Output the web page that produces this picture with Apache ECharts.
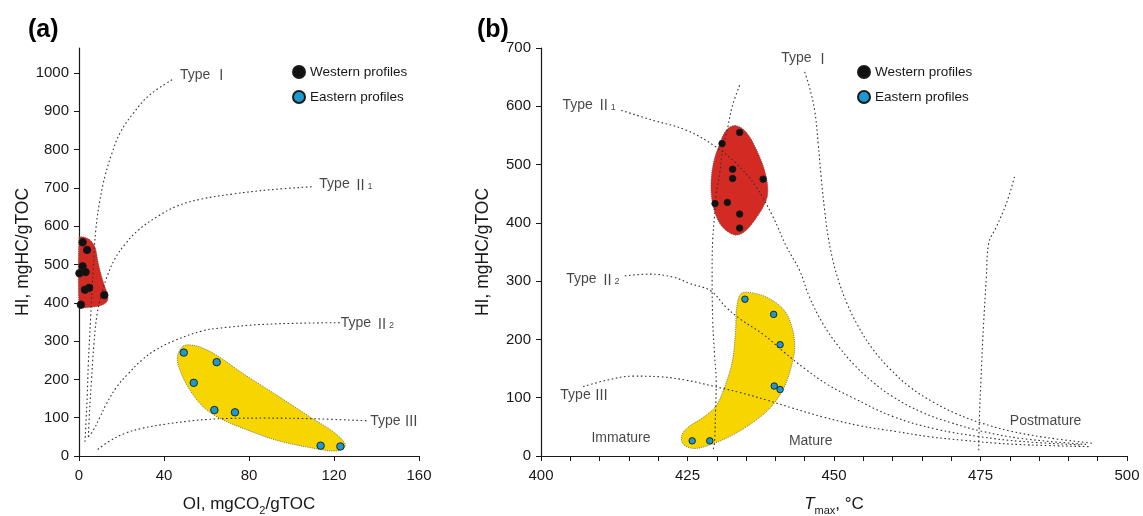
<!DOCTYPE html>
<html><head><meta charset="utf-8">
<script src="https://cdn.jsdelivr.net/npm/echarts@6/dist/echarts.min.js"></script>
<style>html,body{margin:0;padding:0;background:#fff}#c{width:1143px;height:516px}</style>
</head><body><div id="c"></div>
<script>
// ---------- Panel (a): HI vs OI ----------
var westA = [[1.7,558],[3.8,538],[1.7,495],[0.2,477],[3.1,480],[2.8,434],[4.8,439],[11.9,420],[0.9,395]];
var eastA = [[49.3,270],[64.8,245],[54.0,191],[63.7,120],[73.4,114],[113.7,27],[123.0,25]];
var typeI_A = [[2.8,37],[3.4,100],[3.9,160],[4.4,242],[5.5,363],[6.7,490],[7.9,590],[9.6,660],[12.2,730],[15.5,790],[19.3,843],[25.6,895],[33.4,943],[44.4,984]];
var typeII1_A = [[4.4,50],[5.0,120],[5.9,200],[7.0,290],[8.5,370],[10.5,420],[13.0,465],[16.9,515],[22.0,555],[28.0,590],[36.6,624],[46.0,652],[57.0,670],[72.6,684],[90.0,695],[110.3,703]];
var typeII2_A = [[4.4,50],[6.7,67],[9.9,102],[13.0,137],[17.7,180],[23.2,215],[29.5,250],[35.8,276],[45.2,302],[57.7,326],[64.8,333],[88.3,344],[122.8,348]];
var typeIII_A = [[8.8,17],[13.8,37],[21.6,59],[29.5,72],[40.5,83],[51.5,91],[59.3,95],[70.0,98],[88.3,99],[111.9,97],[135.4,92]];
var redA = [[0,571],[1.3,572],[3.3,570],[5.2,564],[7.5,546],[9.1,503],[10.7,468],[12.2,442],[13.3,425],[13.6,410],[12.7,400],[9.9,392],[5.2,388],[1.3,386],[0,386]];
var yellowA = [[49.1,287],[53.8,289],[58.5,281],[64.8,263],[77.3,215],[93.0,159],[108.7,102],[119.7,63],[125.2,32],[124.4,19],[119.7,13],[108.7,22],[93.0,41],[77.3,72],[66.4,98],[58.5,128],[52.2,172],[47.5,224],[46.3,259]];
var labelsA = [[47.5,995,'{t|Type }{r|Ⅰ}'],[113.1,709,'{t|Type }{r|Ⅱ}{s|1}'],[123.2,346,'{t|Type }{r|Ⅱ}{s|2}'],[137.0,91,'{t|Type }{r|Ⅲ}']];
var yTicksA = [0,100,200,300,400,500,600,700,800,900,1000];

// ---------- Panel (b): HI vs Tmax ----------
var westB = [[433.9,555],[430.9,536],[432.7,492],[432.7,476],[437.9,475],[429.7,433],[431.8,435],[433.9,415],[433.9,391]];
var eastB = [[434.8,269],[439.7,243],[440.8,191],[439.8,120],[440.8,114],[425.8,26],[428.8,26]];
var typeI_B = [[445.0,659],[445.8,633],[446.7,593],[447.3,536],[447.8,479],[448.4,422],[449.0,376],[449.8,336],[450.8,300],[452.2,262],[454.0,225],[456.5,185],[459.5,150],[463.0,118],[467.0,92],[471.0,72],[475.0,57],[480.0,43],[486.0,32],[494.0,22]];
var typeII1_B = [[413.7,593],[419.1,576],[424.8,559],[429.9,530],[433.3,502],[436.7,462],[439.6,410],[441.9,359],[444.1,319],[445.8,273],[448.1,227],[450.4,193],[453.2,159],[456.5,128],[460.0,102],[465.0,75],[470.0,57],[475.0,43],[482.0,30],[493.0,20]];
var typeII2_B = [[414.3,309],[418.5,312],[422.5,307],[425.4,296],[429.0,283],[431.5,256],[434.0,235],[438.0,208],[441.5,178],[445.0,150],[449.0,122],[453.0,101],[460.0,68],[467.5,46],[475.0,33],[482.0,25],[492.0,19]];
var typeIII_B = [[407.2,119],[411.2,130],[415.7,137],[420.2,136],[424.8,130],[429.3,120],[433.9,109],[438.5,96],[443.0,82],[448.1,67],[454.4,52],[460.6,42],[466.3,33],[472.0,27],[477.7,22],[483.4,19],[493.6,16]];
var boundImm = [[433.9,636],[432.6,599],[431.9,565],[431.0,525],[430.5,485],[429.9,450],[429.6,410],[429.3,370],[429.2,319],[429.3,233],[429.6,176],[429.9,125],[429.8,79],[429.6,22],[429.4,12]];
var boundPost = [[480.8,479],[479.4,433],[477.7,393],[476.4,365],[476.0,307],[475.5,222],[475.1,136],[474.8,62],[474.7,10]];
var redB = [[433.1,567],[435.0,556],[436.8,525],[438.3,485],[438.7,450],[437.9,427],[436.5,405],[435.0,387],[433.5,379],[432.0,384],[430.5,399],[429.4,427],[429.0,462],[429.4,502],[430.5,536],[431.6,559]];
var yellowB = [[434.2,279],[436.5,279],[439.0,270],[441.5,250],[442.8,222],[443.3,190],[443.0,165],[441.8,125],[439.6,88],[436.5,60],[432.5,35],[428.5,18],[426.0,13],[424.3,20],[424.0,35],[425.2,50],[427.5,65],[429.8,85],[431.2,115],[432.6,160],[433.2,215],[433.4,255]];
var labelsB = [[441.0,682,'{t|Type }{r|Ⅰ}'],[403.65,602,'{t|Type }{r|Ⅱ}{s|1}'],[404.3,303,'{t|Type }{r|Ⅱ}{s|2}'],[403.3,105,'{t|Type }{r|Ⅲ}'],[408.6,30,'{t|Immature}'],[442.3,26,'{t|Mature}'],[480.0,59,'{t|Postmature}']];

var seriesNames = ['Western profiles','Eastern profiles'];
var FONT = 'Liberation Sans, Arial, sans-serif';
var INK = '#1a1718';
var RED = '#d42a24', YELLOW = '#f6d500', BLUE = '#1b9ad2';

function curve(data, i){
  return {type:'line', xAxisIndex:i, yAxisIndex:i, data:data, smooth:0.4, symbol:'none', silent:true, z:3,
    lineStyle:{color:'#333', width:1.1, type:[1.6,2.6]}};
}
function blob(data, i, color){
  return {type:'custom', xAxisIndex:i, yAxisIndex:i, silent:true, z:1, data:data,
    renderItem:function(params, api){
      if(params.dataIndex!==0) return {type:'group', children:[]};
      var pts = data.map(function(p){return api.coord(p);});
      return {type:'polygon', shape:{points:pts, smooth:0.35},
        style:{fill:color, stroke:'#555', lineWidth:0.8, lineDash:[1,1.2]}};
    }};
}
function pts(data, i, name, color, size){
  return {type:'scatter', name:name, xAxisIndex:i, yAxisIndex:i, data:data, symbol:'circle', symbolSize:size, z:5,
    itemStyle:{color:color, borderColor:'#1a1a1a', borderWidth:0.9, opacity:1}};
}
var labelRich = {
  t:{fontSize:14, fontFamily:FONT, color:INK},
  r:{fontSize:14, fontFamily:'Noto Sans CJK SC', color:INK},
  s:{fontSize:9, fontFamily:FONT, color:INK, verticalAlign:'bottom', lineHeight:9}
};
function labels(arr, i){
  return {type:'scatter', xAxisIndex:i, yAxisIndex:i, symbolSize:0, silent:true, z:6,
    data:arr.map(function(l){return {value:[l[0],l[1]], name:l[2]};}),
    label:{show:true, position:'right', distance:0, formatter:'{b}', rich:labelRich, color:INK}};
}
var axisLine = {show:true, onZero:false, lineStyle:{color:INK, width:1.2}};
var axisTick = {show:true, length:5, lineStyle:{color:INK, width:1}};
function plain(v){ return String(v); }
var axisLab = {fontSize:15, color:INK, fontFamily:FONT, formatter:plain};
var nameRich = {
  n:{fontSize:17, fontFamily:FONT, color:INK, lineHeight:20, verticalAlign:'top'},
  i:{fontSize:17, fontFamily:FONT, color:INK, fontStyle:'italic', lineHeight:20, verticalAlign:'top'},
  s:{fontSize:11, fontFamily:FONT, color:INK, lineHeight:11, verticalAlign:'bottom'}
};
var legendBase = {data:seriesNames, orient:'vertical', top:59, itemWidth:12, itemHeight:12, itemGap:9, itemTextGap:7, icon:'circle',
  textStyle:{fontSize:13.5, color:INK, fontFamily:FONT, lineHeight:16}, selectedMode:false};

var option = {
  animation:false,
  backgroundColor:'#fff',
  title:[
    {text:'(a)', left:23, top:13, textStyle:{fontSize:25, fontWeight:'bold', color:'#000', fontFamily:FONT}},
    {text:'(b)', left:472, top:13, textStyle:{fontSize:25, fontWeight:'bold', color:'#000', fontFamily:FONT}}
  ],
  legend:[
    Object.assign({left:287}, legendBase),
    Object.assign({left:852}, legendBase)
  ],
  grid:[
    {left:79, right:724, top:48, bottom:60, outerBoundsMode:'none'},
    {left:541, right:16, top:48, bottom:60, outerBoundsMode:'none'}
  ],
  xAxis:[
    {gridIndex:0, type:'value', min:0, max:160, interval:40, axisLine:axisLine, axisTick:axisTick,
      axisLabel:Object.assign({margin:12}, axisLab), splitLine:{show:false},
      name:'{n|OI, mgCO}{s|2}{n|/gTOC}', nameLocation:'middle', nameGap:40, nameTextStyle:{rich:nameRich}},
    {gridIndex:1, type:'value', min:400, max:500, interval:25, axisLine:axisLine, axisTick:axisTick,
      minorTick:{show:true, splitNumber:5, length:5, lineStyle:{color:INK, width:1}},
      axisLabel:Object.assign({margin:12}, axisLab), splitLine:{show:false}, minorSplitLine:{show:false},
      name:'{i|T}{s|max}{n|, °C}', nameLocation:'middle', nameGap:40, nameTextStyle:{rich:nameRich}}
  ],
  yAxis:[
    {gridIndex:0, type:'value', min:0, max:1065, interval:100, axisLine:axisLine,
      axisTick:Object.assign({customValues:yTicksA}, axisTick),
      axisLabel:Object.assign({margin:10, customValues:yTicksA}, axisLab), splitLine:{show:false},
      name:'HI, mgHC/gTOC', nameLocation:'middle', nameGap:47, nameTextStyle:{fontSize:17.5, color:INK, fontFamily:FONT}},
    {gridIndex:1, type:'value', min:0, max:700, interval:100, axisLine:axisLine, axisTick:axisTick,
      axisLabel:Object.assign({margin:10}, axisLab), splitLine:{show:false},
      name:'HI, mgHC/gTOC', nameLocation:'middle', nameGap:49, nameTextStyle:{fontSize:17.5, color:INK, fontFamily:FONT}}
  ],
  series:[
    blob(redA,0,RED), blob(yellowA,0,YELLOW),
    curve(typeI_A,0), curve(typeII1_A,0), curve(typeII2_A,0), curve(typeIII_A,0),
    pts(westA,0,seriesNames[0],'#111',7.5), pts(eastA,0,seriesNames[1],BLUE,7.5),
    labels(labelsA,0),
    blob(redB,1,RED), blob(yellowB,1,YELLOW),
    curve(typeI_B,1), curve(typeII1_B,1), curve(typeII2_B,1), curve(typeIII_B,1), curve(boundImm,1), curve(boundPost,1),
    pts(westB,1,seriesNames[0],'#111',6.5), pts(eastB,1,seriesNames[1],BLUE,6.5),
    labels(labelsB,1)
  ]
};
var chart = echarts.init(document.getElementById('c'), null, {renderer:'canvas'});
chart.setOption(option);
</script></body></html>
